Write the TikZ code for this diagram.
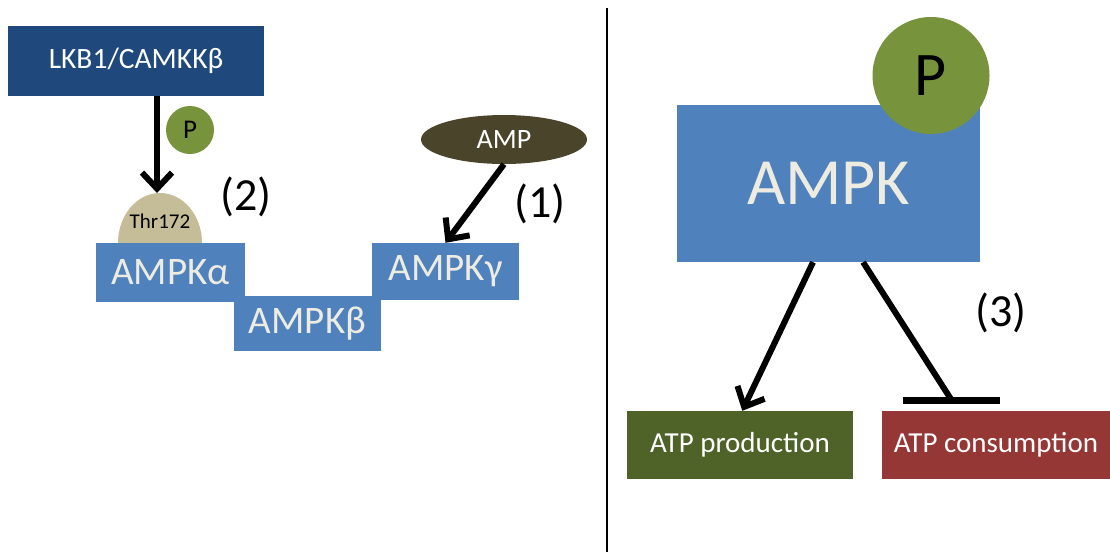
\documentclass[tikz,border=0pt]{standalone}
\usepackage{fontspec}
\setmainfont{Carlito}
\usetikzlibrary{arrows.meta,calc,shapes.geometric}
\definecolor{darkblue}{HTML}{1F497D}
\definecolor{ampkblue}{HTML}{4F81BD}
\definecolor{lighttxt}{HTML}{EEECE1}
\definecolor{pgreen}{HTML}{77933C}
\definecolor{thrtan}{HTML}{C4BD97}
\definecolor{ampbrown}{HTML}{4A452A}
\definecolor{prodgreen}{HTML}{4F6228}
\definecolor{consred}{HTML}{953735}
\tikzset{
  box/.style={rectangle, inner sep=0pt, draw=none},
  sub/.style={box, fill=ampkblue, text=lighttxt, font=\fontsize{39}{44}\selectfont},
  arr/.style={line width=6pt, -{Straight Barb[length=16pt,width=30pt]}},
  inhline/.style={line width=6pt},
  barline/.style={line width=7pt},
  lbl/.style={font=\fontsize{46}{52}\selectfont, inner sep=0pt},
}
\begin{document}
\begin{tikzpicture}[x=1pt,y=-1pt]
\useasboundingbox (0,0) rectangle (1110,552);
% left panel
\node[box, fill=darkblue, text=white, minimum width=256pt, minimum height=70pt, font=\fontsize{29.5}{34}\selectfont] (lkb) at (136,61) {LKB1/CAMKKβ};
\fill[thrtan] (118,243) arc[start angle=180, end angle=360, x radius=42, y radius=50] -- cycle;
\node[inner sep=0pt, font=\fontsize{21}{25}\selectfont] (thr) at (160,221) {Thr172};
\coordinate (thrtop) at (157,193);
\node[circle, fill=pgreen, minimum size=48pt, inner sep=0pt, font=\fontsize{27}{32}\selectfont] (ps) at (190,130) {P};
\node[sub, minimum width=149pt, minimum height=59pt] (ampka) at (170.5,272.5) {AMPKα};
\node[sub, minimum width=147pt, minimum height=55pt] (ampkb) at (307.5,323.5) {AMPKβ};
\node[sub, minimum width=147pt, minimum height=57pt] (ampkg) at (445.5,271.5) {AMPKγ};
\node[ellipse, fill=ampbrown, text=white, minimum width=166pt, minimum height=49pt, inner sep=0pt, font=\fontsize{28}{32}\selectfont] (amp) at (504,139.5) {AMP};
\draw[arr] (lkb.south -| thrtop) -- (thrtop);
\draw[arr] (amp.south) -- (ampkg.north);
\node[lbl] (l2) at (246,197) {(2)};
\node[lbl] (l1) at (540,204) {(1)};
% divider
\draw[line width=1.5pt] (607,8) -- (607,552);
% right panel
\node[box, fill=ampkblue, text=lighttxt, minimum width=303pt, minimum height=157pt, font=\fontsize{66}{72}\selectfont] (ampk) at (828.5,183.5) {AMPK};
\node[circle, fill=pgreen, minimum size=117pt, inner sep=0pt, font=\fontsize{62}{70}\selectfont] (pb) at (931,75.5) {P};
\node[box, fill=prodgreen, text=white, minimum width=226pt, minimum height=68pt, font=\fontsize{29}{34}\selectfont] (atpp) at (740,445) {ATP production};
\node[box, fill=consred, text=white, minimum width=228pt, minimum height=68pt, font=\fontsize{29}{34}\selectfont] (atpc) at (996,445) {ATP consumption};
\coordinate (bar) at (951.5,400);
\draw[arr] ($(ampk.south west)!0.449!(ampk.south east)$) -- ($(atpp.north west)!0.51!(atpp.north east)$);
\draw[inhline] ($(ampk.south west)!0.614!(ampk.south east)$) -- (bar);
\draw[barline] ($(bar)+(-48.5,0)$) -- ($(bar)+(48.5,0)$);
\node[lbl] (l3) at (1001,313) {(3)};
\end{tikzpicture}
\end{document}
